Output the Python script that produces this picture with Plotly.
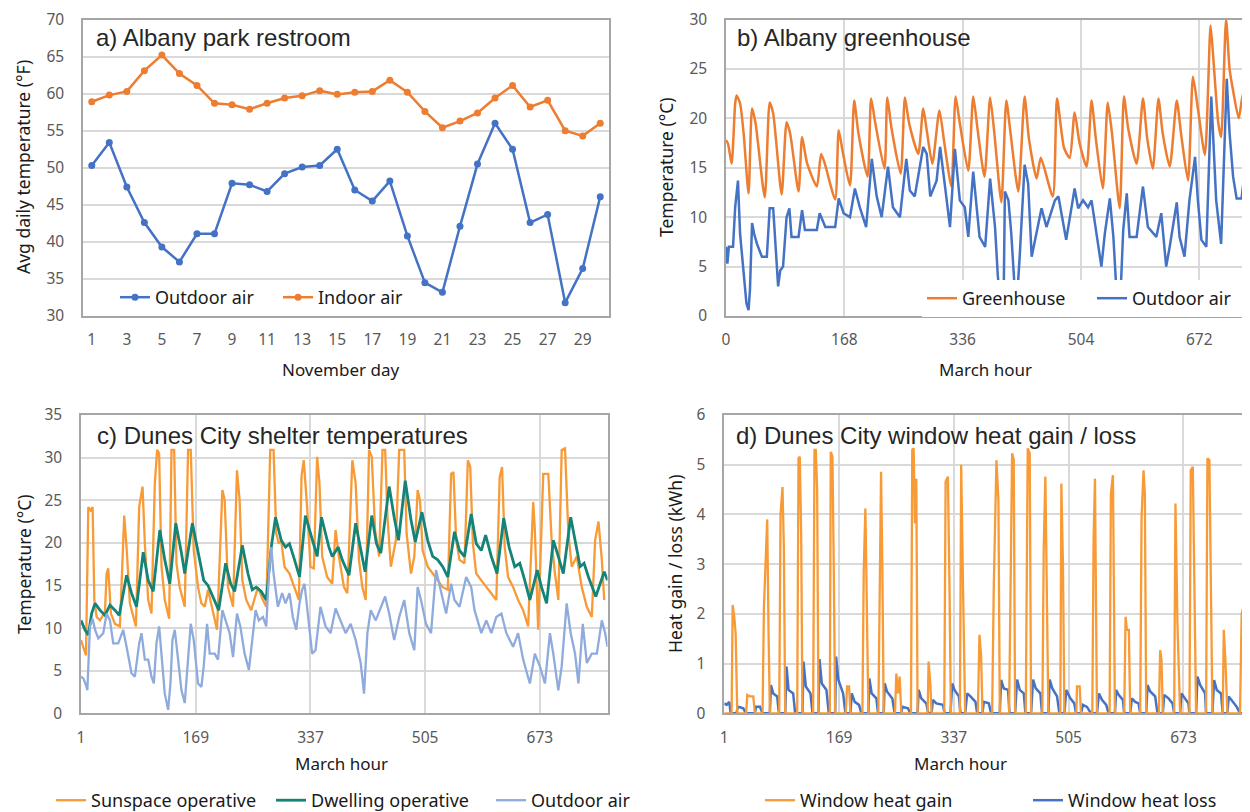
import plotly.graph_objects as go

# ---------------- Panel a: Albany park restroom (daily averages, °F) ----------------
nov_days = list(range(1, 31))
outdoor_a = [50.3, 53.4, 47.4, 42.6, 39.3, 37.3, 41.1, 41.1, 47.9, 47.7,
             46.8, 49.2, 50.1, 50.3, 52.5, 47.0, 45.5, 48.2, 40.8, 34.5,
             33.2, 42.1, 50.5, 56.0, 52.5, 42.6, 43.7, 31.8, 36.4, 46.1]
indoor_a = [58.9, 59.8, 60.3, 63.1, 65.2, 62.7, 61.1, 58.7, 58.5, 57.9,
            58.7, 59.4, 59.7, 60.4, 59.9, 60.2, 60.3, 61.8, 60.2, 57.6,
            55.4, 56.3, 57.4, 59.4, 61.1, 58.2, 59.1, 55.0, 54.3, 56.0]
a_xticks = list(range(1, 30, 2))

# ---------------- Panel b: Albany greenhouse (March hours, °C) ----------------
gh_hours = [0, 3, 8, 13, 15, 20, 25, 32, 37, 42, 55, 62, 67, 79, 86, 91, 103, 108, 115, 129,
            135, 140, 155, 160, 166, 176, 182, 188, 201, 206, 212, 225, 229, 235, 248, 254,
            260, 273, 280, 285, 293, 303, 310, 320, 326, 332, 344, 351, 357, 367, 375, 381,
            391, 398, 404, 415, 424, 430, 441, 447, 464, 470, 480, 488, 495, 502, 512, 519,
            525, 535, 542, 548, 559, 565, 571, 583, 592, 598, 606, 614, 620, 630, 640, 646,
            656, 663, 670, 680, 688, 692, 699, 703, 710, 715, 720, 728, 734, 738, 744]
gh_temp = [17.8, 17.4, 15.4, 21.5, 22.3, 21.5, 18.5, 12.4, 21.0, 19.5, 12.0, 21.6, 20.5, 12.3,
           19.6, 18.5, 12.6, 18.1, 15.5, 13.1, 16.4, 15.5, 11.8, 18.8, 16.5, 13.2, 21.8, 18.5,
           14.1, 22.0, 19.5, 14.9, 22.1, 19.0, 14.4, 22.1, 19.5, 16.4, 21.0, 18.8, 15.4, 20.8,
           17.5, 13.1, 22.2, 19.5, 14.7, 22.2, 19.0, 14.1, 22.1, 18.5, 11.5, 21.8, 18.5, 12.6,
           22.2, 18.0, 13.9, 16.0, 12.1, 22.0, 17.0, 16.0, 20.6, 17.5, 15.1, 21.8, 18.0, 12.9,
           21.6, 18.5, 10.9, 22.2, 19.0, 15.4, 22.0, 18.0, 14.9, 22.0, 18.5, 15.1, 21.8, 18.5,
           13.7, 24.2, 21.0, 16.3, 29.4, 26.0, 19.5, 18.1, 30.0, 25.0, 22.8, 20.0, 22.5, 21.0,
           19.5]
ob_hours = [0, 2, 4, 10, 13, 17, 20, 25, 29, 32, 34, 37, 40, 44, 51, 58, 62, 67, 72, 74, 77,
            81, 86, 90, 93, 103, 108, 112, 129, 133, 141, 155, 160, 167, 176, 183, 190, 199,
            207, 214, 221, 230, 237, 247, 256, 261, 268, 280, 285, 290, 299, 304, 311, 318,
            325, 332, 339, 344, 351, 356, 360, 368, 375, 382, 386, 390, 394, 396, 401, 405,
            410, 413, 417, 424, 429, 434, 441, 448, 455, 467, 472, 483, 495, 500, 507, 514,
            519, 526, 533, 538, 545, 550, 554, 559, 564, 569, 573, 583, 592, 599, 611, 618,
            625, 630, 640, 644, 651, 658, 666, 670, 675, 682, 689, 696, 703, 711, 715, 720,
            725, 732, 737, 744]
ob_temp = [7.0, 5.3, 7.0, 7.0, 11.0, 13.7, 8.3, 4.3, 1.3, 0.6, 2.6, 9.4, 8.3, 7.3, 6.0, 6.0,
           10.9, 10.9, 6.0, 3.0, 4.6, 5.0, 10.0, 10.9, 8.0, 8.0, 10.7, 8.7, 8.7, 10.4, 9.0,
           9.0, 11.9, 10.4, 10.0, 12.9, 11.0, 9.0, 15.9, 12.1, 10.0, 15.1, 11.0, 10.0, 15.9,
           12.7, 12.1, 17.1, 16.4, 12.1, 13.7, 17.1, 13.1, 9.0, 16.9, 11.7, 11.0, 8.0, 14.6,
           11.0, 8.0, 7.0, 13.9, 9.0, 4.0, 1.0, 0.5, 12.6, 11.7, 8.4, 2.6, 1.5, 6.0, 15.3,
           13.4, 6.0, 8.4, 10.9, 9.0, 11.7, 12.1, 7.7, 12.9, 10.9, 11.7, 11.0, 11.7, 8.4, 5.0,
           8.4, 11.9, 8.0, 3.0, 0.2, 8.7, 12.4, 8.0, 8.0, 13.1, 9.0, 8.0, 10.4, 5.0, 7.0,
           11.5, 8.0, 6.0, 11.7, 16.1, 11.7, 7.7, 7.0, 22.2, 11.7, 7.3, 24.0, 18.5, 14.1,
           11.9, 11.9, 14.9, 8.7]
b_xticks = [0, 168, 336, 504, 672]

# ---------------- Panel c: Dunes City shelter temperatures (March hours, °C) ----------------
ss_hours = [1, 4.4, 8.3, 11.7, 15.1, 18.0, 20.5, 23.9, 28.8, 36.1, 38.5, 40.9, 44.8, 50.7, 58.0,
            64.3, 67.7, 72.6, 77.5, 81.4, 86.2, 91.1, 94.5, 99.4, 104.2, 109.1, 112.5, 115.4,
            118.9, 123.7, 130.1, 133.5, 137.4, 140.8, 145.6, 152.9, 157.8, 161.7, 166.1, 172.4,
            177.3, 182.2, 187.0, 194.3, 200.2, 208.0, 211.4, 216.3, 223.6, 229.4, 233.3, 237.2,
            243.0, 250.3, 260.1, 267.4, 272.3, 278.1, 283.0, 286.9, 290.8, 294.2, 299.0, 306.3,
            313.7, 320.0, 324.0, 327.2, 332.1, 337.0, 341.9, 346.8, 350.2, 354.2, 361.5, 368.9,
            373.8, 378.7, 386.1, 391.0, 398.3, 403.2, 408.1, 413.0, 417.9, 422.8, 426.8, 431.7,
            437.6, 442.5, 446.4, 449.8, 454.7, 462.1, 467.0, 474.3, 477.8, 484.2, 489.1, 494.0,
            497.4, 501.3, 508.7, 516.0, 523.4, 530.7, 538.1, 543.0, 546.4, 550.4, 555.3, 562.6,
            567.5, 571.0, 574.9, 579.8, 587.2, 594.5, 601.9, 609.2, 614.1, 617.6, 621.5, 626.4,
            633.8, 641.1, 648.5, 655.8, 663.2, 665.6, 670.5, 677.9, 685.3, 690.2, 695.1, 700.0,
            704.9, 709.8, 714.7, 719.6, 727.0, 734.3, 741.7, 749.0, 753.9, 758.8, 763.7, 767.2,
            772.0]
ss_temp = [8.6, 7.8, 6.8, 24.2, 23.8, 24.2, 13.3, 11.3, 10.9, 11.9, 16.4, 17.0, 11.7, 10.5,
           10.2, 23.2, 19.5, 12.9, 11.3, 10.2, 24.2, 26.6, 19.9, 13.3, 11.7, 27.0, 30.9, 30.5,
           17.2, 13.3, 11.1, 30.9, 30.9, 17.6, 14.8, 12.5, 30.9, 30.9, 19.1, 14.8, 12.9, 12.5,
           14.5, 11.7, 9.8, 26.2, 25.0, 14.8, 12.5, 28.5, 25.0, 15.6, 13.3, 12.1, 14.8, 13.3,
           12.5, 30.9, 30.9, 21.1, 19.9, 20.3, 17.2, 16.4, 14.8, 13.3, 27.9, 29.7, 24.2, 17.2,
           17.0, 30.1, 27.0, 18.4, 16.0, 15.2, 21.5, 18.4, 14.8, 14.1, 29.7, 27.0, 18.0, 14.8,
           13.3, 30.9, 30.1, 21.5, 18.4, 30.9, 30.9, 23.0, 17.2, 20.3, 30.9, 30.9, 21.1, 16.4,
           18.4, 26.2, 25.0, 19.1, 17.2, 16.4, 15.6, 14.8, 14.5, 28.1, 28.3, 20.3, 18.0, 17.6,
           29.7, 28.9, 19.9, 16.4, 15.6, 14.8, 14.1, 13.3, 27.7, 28.9, 19.5, 16.0, 14.8, 13.3,
           12.1, 10.2, 24.8, 21.5, 9.8, 28.1, 28.1, 20.3, 16.4, 13.3, 30.9, 31.1, 21.1, 17.2,
           18.4, 14.8, 12.5, 11.3, 20.3, 22.5, 18.0, 13.3]
dw_hours = [1, 6.8, 11.7, 16.6, 21.5, 28.8, 36.1, 43.4, 50.7, 57.0, 67.7, 75.0, 82.3, 92.1,
            99.4, 106.7, 116.4, 123.7, 131.0, 139.8, 148.1, 152.9, 164.1, 172.4, 180.7, 187.0,
            194.3, 202.6, 212.8, 220.2, 226.0, 237.2, 245.5, 251.8, 257.6, 265.0, 272.3, 279.6,
            285.9, 294.2, 300.5, 306.3, 313.7, 321.0, 329.6, 346.8, 353.2, 364.0, 368.9, 377.7,
            383.6, 393.4, 403.2, 410.6, 417.0, 426.8, 433.6, 440.0, 452.3, 459.6, 466.0, 475.8,
            484.2, 490.5, 500.3, 508.7, 516.0, 523.4, 530.7, 538.1, 547.9, 555.3, 562.6, 572.4,
            579.8, 587.2, 593.5, 601.9, 610.2, 620.0, 627.9, 636.2, 643.6, 649.4, 658.3, 669.1,
            675.4, 682.8, 692.6, 700.0, 707.3, 718.1, 726.0, 731.9, 737.7, 744.1, 754.9, 767.2,
            772.0]
dw_temp = [10.9, 9.8, 9.2, 11.7, 12.9, 12.1, 11.5, 12.7, 12.1, 11.5, 16.2, 14.1, 12.5, 18.9,
           15.6, 14.3, 21.5, 18.0, 15.2, 22.3, 18.8, 16.4, 22.3, 18.8, 15.6, 15.0, 13.7, 12.1,
           17.6, 15.2, 14.3, 19.7, 16.4, 14.5, 14.8, 14.3, 13.3, 19.5, 23.0, 20.3, 19.5, 19.9,
           18.0, 16.0, 23.2, 18.4, 23.0, 19.5, 18.4, 19.5, 18.0, 16.2, 22.3, 19.1, 16.6, 23.2,
           19.9, 18.8, 26.6, 23.0, 20.3, 27.3, 22.7, 20.1, 23.6, 20.3, 18.4, 18.0, 17.2, 16.0,
           21.3, 19.1, 18.4, 23.4, 19.9, 19.1, 20.9, 18.4, 16.4, 22.9, 19.5, 17.2, 17.6, 16.0,
           13.3, 16.8, 14.8, 12.9, 20.3, 18.4, 16.4, 23.0, 19.5, 17.2, 17.6, 16.0, 13.7, 16.6,
           15.6]
oc_hours = [1, 4.4, 8.3, 10.3, 14.1, 18.0, 21.5, 26.3, 33.6, 38.5, 43.4, 48.2, 55.5, 62.8,
            67.7, 75.0, 79.9, 86.2, 89.6, 94.5, 99.4, 104.2, 107.7, 111.5, 115.4, 118.9, 123.7,
            128.6, 132.0, 134.9, 138.3, 143.2, 148.1, 152.9, 157.8, 161.7, 166.1, 172.4, 177.3,
            180.7, 185.6, 189.5, 196.8, 201.6, 208.0, 212.8, 218.7, 223.6, 229.4, 234.3, 240.6,
            246.9, 252.8, 256.7, 261.5, 267.4, 272.3, 276.2, 279.6, 283.0, 289.3, 295.6, 300.5,
            306.3, 311.2, 316.1, 321.0, 324.9, 328.3, 333.6, 339.5, 344.4, 351.7, 359.1, 366.4,
            373.8, 381.1, 388.5, 395.9, 403.2, 410.6, 415.5, 420.4, 425.3, 432.6, 440.0, 446.4,
            452.3, 459.6, 467.0, 474.3, 481.7, 489.1, 494.0, 498.9, 506.2, 513.6, 520.9, 528.3,
            535.7, 543.0, 547.9, 555.3, 565.1, 572.4, 577.3, 587.2, 594.5, 601.9, 609.2, 616.6,
            623.9, 633.8, 641.1, 648.5, 658.3, 665.6, 673.0, 680.4, 687.7, 692.6, 700.0, 704.9,
            712.2, 718.1, 724.5, 729.4, 735.8, 741.7, 749.0, 756.4, 763.7, 768.6, 772.0]
oc_temp = [4.3, 4.1, 3.3, 2.7, 10.2, 11.1, 9.8, 8.8, 9.4, 11.7, 10.9, 8.2, 8.2, 9.8, 7.8, 4.7,
           4.3, 8.2, 9.4, 6.3, 6.3, 4.3, 3.5, 8.2, 10.2, 7.0, 2.3, 0.4, 3.5, 8.6, 9.8, 6.3,
           2.7, 1.2, 7.0, 10.5, 8.6, 3.5, 3.1, 5.5, 10.5, 7.0, 7.0, 6.3, 12.1, 10.9, 9.4, 6.6,
           11.7, 10.2, 7.0, 5.1, 9.4, 12.1, 10.9, 11.3, 10.2, 16.4, 19.5, 16.4, 12.5, 14.1,
           12.9, 14.1, 11.3, 9.8, 12.9, 14.5, 15.2, 11.3, 7.0, 7.4, 12.5, 10.2, 9.4, 12.3, 10.9,
           9.4, 10.5, 8.6, 5.9, 2.3, 9.4, 12.1, 10.9, 12.5, 13.7, 11.7, 8.6, 11.3, 13.3, 9.4,
           7.4, 14.8, 13.3, 10.5, 9.4, 16.8, 14.1, 11.7, 15.2, 13.3, 12.5, 16.0, 14.8, 12.1,
           9.4, 10.9, 9.4, 11.3, 11.7, 9.4, 7.8, 9.4, 6.3, 3.5, 7.0, 5.5, 3.5, 9.4, 7.0, 2.7,
           5.5, 12.9, 9.4, 7.0, 3.5, 10.5, 5.9, 7.0, 7.0, 10.9, 9.4, 7.8]
cd_xticks = [1, 169, 337, 505, 673]

# ---------------- Panel d: Dunes City window heat gain / loss (March hours, kWh) ----------------
gain_hours = [1, 11.7, 13.2, 15.6, 17.6, 19.0, 20.0, 33.0, 34.6, 38.5, 43.4, 45.8, 57.0, 59.0,
              61.4, 63.8, 65.8, 67.7, 81.4, 83.3, 86.2, 88.2, 90.1, 107.7, 109.6, 111.5, 113.5,
              115.4, 131.0, 133.0, 134.9, 136.9, 138.8, 155.4, 156.8, 159.3, 161.2, 163.2, 178.8,
              180.7, 183.6, 185.6, 203.1, 205.1, 207.5, 209.9, 211.9, 226.5, 227.9, 230.4, 232.3,
              234.3, 250.8, 252.8, 255.2, 257.6, 260.1, 274.2, 276.1, 278.1, 280.0, 282.0, 283.9,
              298.6, 300.0, 302.5, 304.4, 322.9, 324.9, 328.3, 330.7, 332.6, 345.8, 347.7, 350.6,
              353.5, 372.0, 374.5, 376.9, 378.9, 393.0, 395.4, 399.3, 402.2, 404.2, 417.8, 419.8,
              422.2, 424.6, 426.6, 442.2, 445.1, 448.0, 450.0, 466.5, 468.5, 470.9, 473.3, 475.3,
              492.8, 494.3, 496.7, 498.7, 516.2, 517.2, 521.1, 523.0, 539.6, 541.5, 543.5, 546.4,
              564.9, 566.8, 569.8, 572.7, 586.3, 588.3, 590.2, 593.1, 595.1, 609.7, 611.7, 614.6,
              616.5, 618.5, 637.0, 638.9, 640.9, 642.8, 659.4, 661.3, 664.2, 666.2, 668.1, 681.8,
              683.7, 686.7, 689.6, 691.5, 706.1, 708.1, 711.0, 713.4, 715.4, 730.5, 732.0, 734.4,
              737.3, 755.8, 758.2, 760.7, 763.1, 765.5, 768.0, 770.4]
gain_kwh = [0, 0, 2.18, 1.94, 1.6, 0.4, 0, 0, 0.37, 0.34, 0.34, 0, 0, 2.14, 3.0, 3.9, 1.6, 0,
            0, 4.0, 4.55, 3.3, 0, 0, 5.13, 5.16, 3.6, 0, 0, 5.3, 5.3, 4.5, 0, 0, 5.26, 5.16,
            2.95, 0, 0, 0.54, 0.54, 0, 0, 2.9, 4.12, 2.3, 0, 0, 1.68, 4.86, 2.95, 0, 0, 0.8,
            0.4, 0.74, 0, 0, 5.3, 5.33, 3.82, 4.72, 0, 0, 1.04, 0.6, 0, 0, 4.66, 4.76, 2.4, 0,
            0, 5.0, 2.35, 0, 0, 1.58, 1.14, 0, 0, 2.55, 5.09, 4.29, 0, 0, 2.3, 5.23, 5.1, 0, 0,
            5.33, 5.23, 0, 0, 3.3, 4.76, 2.6, 0, 0, 4.62, 2.95, 0, 0, 0.54, 0.54, 0, 0, 3.5,
            4.72, 0, 0, 4.42, 4.79, 0, 0, 1.94, 1.68, 1.68, 0, 0, 3.95, 4.89, 4.4, 0, 0, 1.27,
            1.07, 0, 0, 4.22, 1.81, 0.8, 0, 0, 4.89, 4.96, 1.6, 0, 0, 5.13, 5.09, 2.55, 0, 0,
            1.68, 1.07, 0, 0, 2.0, 2.14, 1.27, 0, 0, 1.6]
loss_hours = [1, 4.4, 8.3, 10.3, 19.0, 20.5, 23.9, 28.8, 32.7, 45.8, 47.3, 53.1, 57.0, 67.7,
              69.2, 72.6, 78.4, 80.9, 90.1, 92.1, 95.0, 101.8, 104.7, 115.4, 116.9, 120.3,
              127.1, 130.1, 138.8, 140.3, 143.7, 150.5, 153.9, 163.2, 164.6, 168.0, 174.9, 178.3,
              185.6, 187.5, 191.9, 198.2, 201.6, 211.9, 213.3, 216.7, 223.6, 226.0, 234.3, 235.7,
              239.1, 246.9, 250.3, 260.1, 261.5, 269.8, 273.2, 283.9, 285.4, 289.3, 296.6, 299.5,
              304.4, 306.3, 311.2, 321.0, 323.4, 332.1, 334.5, 337.9, 344.3, 346.7, 353.5, 356.5,
              361.3, 368.6, 371.1, 378.9, 380.8, 388.1, 391.5, 404.2, 406.1, 410.0, 416.4, 418.3,
              426.6, 429.5, 433.4, 439.3, 441.7, 450.0, 452.9, 456.8, 463.6, 466.0, 475.3, 477.2,
              481.1, 488.0, 491.4, 498.7, 501.6, 507.4, 513.3, 515.7, 523.0, 525.9, 531.8, 537.6,
              546.4, 549.3, 553.7, 560.0, 563.4, 572.7, 574.6, 578.1, 584.4, 586.3, 595.1, 597.5,
              602.4, 607.3, 609.7, 618.5, 620.4, 624.3, 631.6, 635.0, 642.8, 644.8, 651.1, 657.0,
              659.4, 668.1, 670.1, 675.5, 680.3, 681.8, 691.5, 693.5, 697.4, 704.7, 706.1, 715.4,
              717.8, 721.7, 728.0, 730.5, 737.3, 739.3, 745.1, 751.0, 755.8, 765.5, 767.5, 770.4]
loss_kwh = [0.2, 0.17, 0.23, 0, 0, 0.13, 0.12, 0.1, 0, 0, 0.13, 0.13, 0, 0, 0.57, 0.4, 0.34, 0,
            0, 0.94, 0.47, 0.4, 0, 0, 1.04, 0.54, 0.4, 0, 0, 1.09, 0.6, 0.47, 0, 0, 1.14, 0.67,
            0.4, 0, 0, 0.4, 0.23, 0.17, 0, 0, 0.7, 0.4, 0.3, 0, 0, 0.6, 0.44, 0.3, 0, 0, 0.13,
            0.1, 0, 0, 0.47, 0.3, 0.2, 0, 0, 0.27, 0.2, 0.17, 0, 0, 0.6, 0.47, 0.34, 0, 0, 0.4,
            0.34, 0.23, 0, 0, 0.23, 0.2, 0, 0, 0.67, 0.5, 0.47, 0, 0, 0.68, 0.47, 0.4, 0, 0,
            0.68, 0.5, 0.4, 0, 0, 0.68, 0.5, 0.34, 0, 0, 0.47, 0.3, 0.2, 0, 0, 0.17, 0.13, 0, 0,
            0.4, 0.27, 0.17, 0, 0, 0.47, 0.37, 0.27, 0, 0, 0.3, 0.23, 0.2, 0, 0, 0.57, 0.44,
            0.34, 0, 0, 0.37, 0.3, 0.2, 0, 0, 0.4, 0.3, 0.2, 0, 0, 0.74, 0.57, 0.4, 0, 0, 0.67,
            0.47, 0.4, 0, 0, 0.34, 0.23, 0.13, 0, 0, 0.3, 0.25]

# ---------------- styling ----------------
BLUE = "#4472C4"
ORANGE = "#ED7D31"
LORANGE = "#F89A36"
TEAL = "#138477"
LBLUE = "#8FAADC"
TICK_FONT = dict(family="Noto Sans", size=15.5, color="#595959")
XTITLE_FONT = dict(family="Noto Sans", size=17, color="#1a1a1a")
YTITLE_FONT = dict(family="Noto Sans", size=17.5, color="#1a1a1a")
LEG_FONT = dict(family="Noto Sans", size=18, color="#1a1a1a")
PANEL_FONT = dict(family="Liberation Sans", size=24, color="#262626")
GRID = "#D9D9D9"
FRAME = "#A6A6A6"

# the page places the figure 8 px from the top-left of the window
OFF = 8
W, H = 1250 - OFF, 812 - OFF


def px_x(p):
    return (p - OFF) / W


def px_y(p):
    return 1 - (p - OFF) / H


fig = go.Figure()

# panel a
fig.add_trace(go.Scatter(x=nov_days, y=outdoor_a, name="Outdoor air", mode="lines+markers",
                         line=dict(color=BLUE, width=2.5), marker=dict(size=7, color=BLUE),
                         xaxis="x", yaxis="y", legend="legend"))
fig.add_trace(go.Scatter(x=nov_days, y=indoor_a, name="Indoor air", mode="lines+markers",
                         line=dict(color=ORANGE, width=2.5), marker=dict(size=7, color=ORANGE),
                         xaxis="x", yaxis="y", legend="legend"))
# panel b
fig.add_trace(go.Scatter(x=gh_hours, y=gh_temp, name="Greenhouse", mode="lines",
                         line=dict(color=ORANGE, width=2.5, shape="spline", smoothing=0.6),
                         xaxis="x2", yaxis="y2", legend="legend2"))
fig.add_trace(go.Scatter(x=ob_hours, y=ob_temp, name="Outdoor air", mode="lines",
                         line=dict(color=BLUE, width=2.5), xaxis="x2", yaxis="y2", legend="legend2"))
# panel c
fig.add_trace(go.Scatter(x=ss_hours, y=ss_temp, name="Sunspace operative", mode="lines",
                         line=dict(color=LORANGE, width=2.3), xaxis="x3", yaxis="y3",
                         legend="legend3"))
fig.add_trace(go.Scatter(x=dw_hours, y=dw_temp, name="Dwelling operative", mode="lines",
                         line=dict(color=TEAL, width=2.8), xaxis="x3", yaxis="y3", legend="legend3"))
fig.add_trace(go.Scatter(x=oc_hours, y=oc_temp, name="Outdoor air", mode="lines",
                         line=dict(color=LBLUE, width=2.3), xaxis="x3", yaxis="y3", legend="legend3"))
# panel d (loss drawn first so gain sits on top, legend order kept by rank)
fig.add_trace(go.Scatter(x=loss_hours, y=loss_kwh, name="Window heat loss", mode="lines",
                         line=dict(color=BLUE, width=2.5), xaxis="x4", yaxis="y4", legend="legend4",
                         legendrank=2))
fig.add_trace(go.Scatter(x=gain_hours, y=gain_kwh, name="Window heat gain", mode="lines",
                         line=dict(color=LORANGE, width=2.3), xaxis="x4", yaxis="y4",
                         legend="legend4", legendrank=1))

common_x = dict(showline=True, mirror=True, linecolor=FRAME, linewidth=1.5, ticks="",
                tickfont=TICK_FONT, zeroline=False, ticklabelstandoff=9, automargin=False,
                ticklabeloverflow="allow")
common_y = dict(showline=True, mirror=True, linecolor=FRAME, linewidth=1.5, ticks="",
                tickfont=TICK_FONT, zeroline=False, showgrid=True, gridcolor=GRID, gridwidth=1.5,
                ticklabelstandoff=14, automargin=False, ticklabeloverflow="allow")

fig.update_layout(
    template="plotly_white",
    width=W, height=H, margin=dict(l=0, r=0, t=0, b=0, autoexpand=False),
    paper_bgcolor="white", plot_bgcolor="white",
    xaxis=dict(common_x, domain=[px_x(83), px_x(609)], range=[0.5, 30.5], tickvals=a_xticks,
               showgrid=False, anchor="y"),
    yaxis=dict(common_y, domain=[px_y(316), px_y(19.5)], range=[30, 70], dtick=5, anchor="x"),
    xaxis2=dict(common_x, domain=[px_x(726), 1.0], range=[0, 744], tickvals=b_xticks,
                showgrid=True, gridcolor=GRID, gridwidth=1.5, anchor="y2"),
    yaxis2=dict(common_y, domain=[px_y(316), px_y(19.5)], range=[0, 30], dtick=5, anchor="x2"),
    xaxis3=dict(common_x, domain=[px_x(81), px_x(607.5)], range=[1, 772], tickvals=cd_xticks,
                showgrid=True, gridcolor=GRID, gridwidth=1.5, anchor="y3"),
    yaxis3=dict(common_y, domain=[px_y(713.3), px_y(415)], range=[0, 35], dtick=5, anchor="x3"),
    xaxis4=dict(common_x, domain=[px_x(724.3), 1.0], range=[1, 770.4], tickvals=cd_xticks,
                showgrid=True, gridcolor=GRID, gridwidth=1.5, anchor="y4"),
    yaxis4=dict(common_y, domain=[px_y(713.3), px_y(415)], range=[0, 6], dtick=1, anchor="x4"),
    legend=dict(orientation="h", x=px_x(115), y=px_y(279), xanchor="left", yanchor="top",
                font=LEG_FONT, bgcolor="rgba(255,255,255,0)", entrywidth=118,
                itemwidth=30),
    legend2=dict(orientation="h", x=px_x(922), y=px_y(280), xanchor="left", yanchor="top",
                 font=LEG_FONT, bgcolor="white", entrywidth=125, itemwidth=30),
    legend3=dict(orientation="h", x=px_x(51), y=px_y(782), xanchor="left", yanchor="top",
                 font=LEG_FONT, bgcolor="rgba(255,255,255,0)", entrywidth=175, itemwidth=30),
    legend4=dict(orientation="h", x=px_x(760), y=px_y(782), xanchor="left", yanchor="top",
                 font=LEG_FONT, bgcolor="rgba(255,255,255,0)", entrywidth=223, itemwidth=30),
    showlegend=True,
)

annotations = [
    # panel titles
    dict(text="a) Albany park restroom", x=px_x(94), y=px_y(38), xanchor="left",
         yanchor="middle", font=PANEL_FONT),
    dict(text="b) Albany greenhouse", x=px_x(735), y=px_y(38), xanchor="left",
         yanchor="middle", font=PANEL_FONT),
    dict(text="c) Dunes City shelter temperatures", x=px_x(95), y=px_y(435), xanchor="left",
         yanchor="middle", font=PANEL_FONT),
    dict(text="d) Dunes City window heat gain / loss", x=px_x(734), y=px_y(435), xanchor="left",
         yanchor="middle", font=PANEL_FONT),
    # axis titles
    dict(text="November day", x=px_x(340), y=px_y(369), xanchor="center", yanchor="middle",
         font=XTITLE_FONT),
    dict(text="March hour", x=px_x(985), y=px_y(369), xanchor="center", yanchor="middle",
         font=XTITLE_FONT),
    dict(text="March hour", x=px_x(342), y=px_y(763), xanchor="center", yanchor="middle",
         font=XTITLE_FONT),
    dict(text="March hour", x=px_x(960), y=px_y(763), xanchor="center", yanchor="middle",
         font=XTITLE_FONT),
    dict(text="Avg daily temperature (°F)", x=px_x(23), y=px_y(167), textangle=-90,
         xanchor="center", yanchor="middle", font=YTITLE_FONT),
    dict(text="Temperature (°C)", x=px_x(666), y=px_y(167), textangle=-90,
         xanchor="center", yanchor="middle", font=YTITLE_FONT),
    dict(text="Temperature (°C)", x=px_x(24), y=px_y(564), textangle=-90,
         xanchor="center", yanchor="middle", font=YTITLE_FONT),
    dict(text="Heat gain / loss (kWh)", x=px_x(675), y=px_y(564), textangle=-90,
         xanchor="center", yanchor="middle", font=YTITLE_FONT),
]
for a in annotations:
    a.update(xref="paper", yref="paper", showarrow=False)
fig.update_layout(annotations=annotations)

fig.write_html("out.html")
